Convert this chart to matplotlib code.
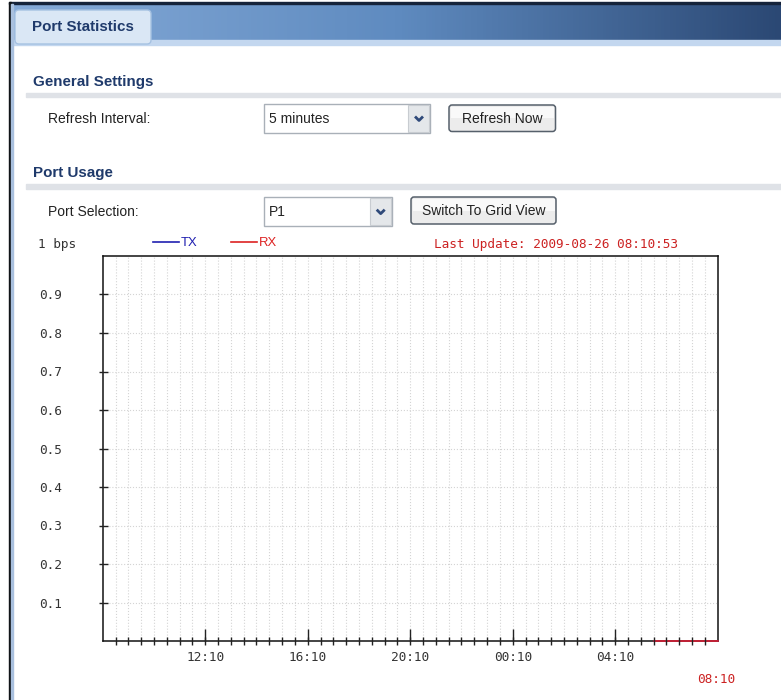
import numpy as np
import matplotlib
matplotlib.use("Agg")
import matplotlib.pyplot as plt
from matplotlib.patches import Rectangle, FancyBboxPatch
from matplotlib.colors import LinearSegmentedColormap

# --- chart data ---
tx_hours = [21.5, 22.0, 22.5, 23.0, 23.5, 24.0]
tx_bps = [0, 0, 0, 0, 0, 0]
rx_hours = [21.5, 22.0, 22.5, 23.0, 23.5, 24.0]
rx_bps = [0, 0, 0, 0, 0, 0]

label_hours = [4, 8, 12, 16, 20]
hour_labels = ["12:10", "16:10", "20:10", "00:10", "04:10"]
end_label = "08:10"
y_ticks = [0.1, 0.2, 0.3, 0.4, 0.5, 0.6, 0.7, 0.8, 0.9]
y_labels = ["0.1", "0.2", "0.3", "0.4", "0.5", "0.6", "0.7", "0.8", "0.9"]
unit_label = "1 bps"
last_update = "Last Update: 2009-08-26 08:10:53"

refresh_interval = "5 minutes"
port_choice = "P1"

UI_FONT = "Liberation Sans"
MONO = "DejaVu Sans Mono"
HEAD = "#1f3a6b"
TXT = "#222222"

plt.rcParams["font.family"] = [MONO]

fig = plt.figure(figsize=(7.81, 7.0), dpi=100)
bg = fig.add_axes([0, 0, 1, 1])
bg.set_axis_off()


def draw_select(x0, y0, x1, y1, text):
    bg.add_patch(Rectangle((x0, y0), x1 - x0, y1 - y0, facecolor="white",
                           edgecolor="#a9b0b8", lw=1, zorder=2))
    bx = x1 - 22
    bg.add_patch(Rectangle((bx, y0 + 1), x1 - bx - 1, y1 - y0 - 2,
                           facecolor="#e4e7ea", edgecolor="#c8ccd1", lw=0.8, zorder=3))
    cx, cy = (bx + x1) / 2, (y0 + y1) / 2
    bg.plot([cx - 4, cx, cx + 4], [cy - 2, cy + 2, cy - 2], color="#2f4a7a",
            lw=2.0, solid_capstyle="butt", zorder=4)
    bg.text(x0 + 5, cy + 4.5, text, family=UI_FONT, fontsize=10, color=TXT,
            va="baseline", ha="left", zorder=4)


def draw_button(x0, y0, x1, y1, text):
    bg.add_patch(FancyBboxPatch((x0, y0), x1 - x0, y1 - y0,
                                boxstyle="round,pad=0,rounding_size=3",
                                facecolor="#ececec", edgecolor="#56606b", lw=1.1, zorder=2))
    bg.add_patch(Rectangle((x0 + 1.5, y0 + 1.5), x1 - x0 - 3, (y1 - y0) / 2 - 1.5,
                           facecolor="#f9f9f9", edgecolor="none", zorder=2.5))
    bg.text((x0 + x1) / 2, (y0 + y1) / 2 + 4.5, text, family=UI_FONT, fontsize=10,
            color=TXT, va="baseline", ha="center", zorder=4)


# window frame and header band
bg.add_patch(Rectangle((9, 1.5), 772, 2.7, color="#15233a", zorder=3))
grad = np.linspace(0, 1, 256).reshape(1, -1)
hdr_cmap = LinearSegmentedColormap.from_list("hdr", ["#86abd8", "#5f8bc0", "#2b4874"])
bg.imshow(grad, cmap=hdr_cmap, extent=(10, 781, 41, 4), aspect="auto", zorder=1)
bg.add_patch(Rectangle((10, 40), 771, 4.5, color="#c3d7ef", zorder=1.5))
bg.add_patch(FancyBboxPatch((15, 10), 136, 34, boxstyle="round,pad=0,rounding_size=4",
                            facecolor="#dae7f5", edgecolor="#a6c2e2", lw=1, zorder=2))
bg.text(32, 30.7, "Port Statistics", family=UI_FONT, fontweight="bold", fontsize=10.9,
        color=HEAD, va="baseline", zorder=4)
bg.add_patch(Rectangle((9, 2), 2.3, 698, color="#101418", zorder=3))
bg.add_patch(Rectangle((11.3, 4), 1.4, 696, color="#a9c0de", zorder=3))

# General Settings section
bg.text(33, 86, "General Settings", family=UI_FONT, fontweight="bold", fontsize=10.9,
        color=HEAD, va="baseline")
bg.add_patch(Rectangle((26, 92.7), 755, 4.6, color="#dfe2e7"))
bg.text(48, 122.7, "Refresh Interval:", family=UI_FONT, fontsize=10, color=TXT, va="baseline")
draw_select(264.3, 104.3, 430, 132.7, refresh_interval)
draw_button(449, 105, 555.5, 131.5, "Refresh Now")

# Port Usage section
bg.text(33, 176.7, "Port Usage", family=UI_FONT, fontweight="bold", fontsize=10.9,
        color=HEAD, va="baseline")
bg.add_patch(Rectangle((26, 184.3), 755, 5, color="#dfe2e7"))
bg.text(48, 215.5, "Port Selection:", family=UI_FONT, fontsize=10, color=TXT, va="baseline")
draw_select(264, 197.3, 391.7, 226, port_choice)
draw_button(411, 197, 556, 224, "Switch To Grid View")

# chart header texts
bg.text(38, 248, unit_label, family=MONO, fontsize=9.2, color="#333333", va="baseline")
bg.text(434, 248, last_update, family=MONO, fontsize=9.2, color="#cc2222", va="baseline")

bg.set_xlim(0, 781)
bg.set_ylim(700, 0)

# --- the chart itself ---
ax = fig.add_axes([102.7 / 781, (700 - 641) / 700, 615 / 781, 385 / 700])
ax.set_zorder(2)
tx_line, = ax.plot(tx_hours, tx_bps, color="#2020b0", lw=1.2, clip_on=False,
                   zorder=2.6, label="TX")
rx_line, = ax.plot(rx_hours, rx_bps, color="#dd2222", lw=1.2, clip_on=False,
                   zorder=2.65, label="RX")
ax.set_xlim(0, 24)
ax.set_ylim(0, 1)

# half-hour ticks carry the grid; the labelled 4-hour ticks sit on top of them
ax.set_xticks(np.arange(0.5, 24, 0.5))
ax.set_xticklabels([])
ax.set_xticks(label_hours, hour_labels, minor=True)
ax.xaxis.remove_overlapping_locs = False
ax.set_yticks(y_ticks, y_labels)
ax.xaxis.set_zorder(2.7)
ax.yaxis.set_zorder(2.7)

ax.tick_params(axis="x", which="minor", direction="in", length=12 * 0.72, width=1.0,
               pad=7, labelsize=9.2, color="#222222", labelcolor="#333333")
ax.tick_params(axis="x", which="major", direction="inout", length=8 * 0.72, width=1.0,
               color="#222222")
ax.tick_params(axis="y", which="major", direction="inout", length=9 * 0.72, width=1.0,
               pad=26, labelsize=9.2, color="#222222", labelcolor="#333333")

ax.grid(axis="x", which="major", linestyle=":", color="#d4d4d4", lw=0.8)
ax.grid(axis="y", which="major", linestyle=":", color="#d4d4d4", lw=0.8)
for sp in ax.spines.values():
    sp.set_color("#111111")
    sp.set_linewidth(1.1)

ax.annotate(end_label, xy=(24, 0), xycoords="data", xytext=(-1.2, -42 * 0.72),
            textcoords="offset points", ha="center", va="baseline", fontsize=9.2,
            color="#cc2222", annotation_clip=False)

ax.legend(handles=[tx_line, rx_line], loc="center left",
          bbox_to_anchor=((153.3 - 102.7) / 615, (641 - 243.3) / 385),
          frameon=False, ncol=2, handlelength=2.0, handletextpad=0.1,
          columnspacing=2.6, borderpad=0, borderaxespad=0,
          prop={"family": UI_FONT, "size": 9.4}, labelcolor="linecolor")

fig.savefig("out.png", dpi=100)
